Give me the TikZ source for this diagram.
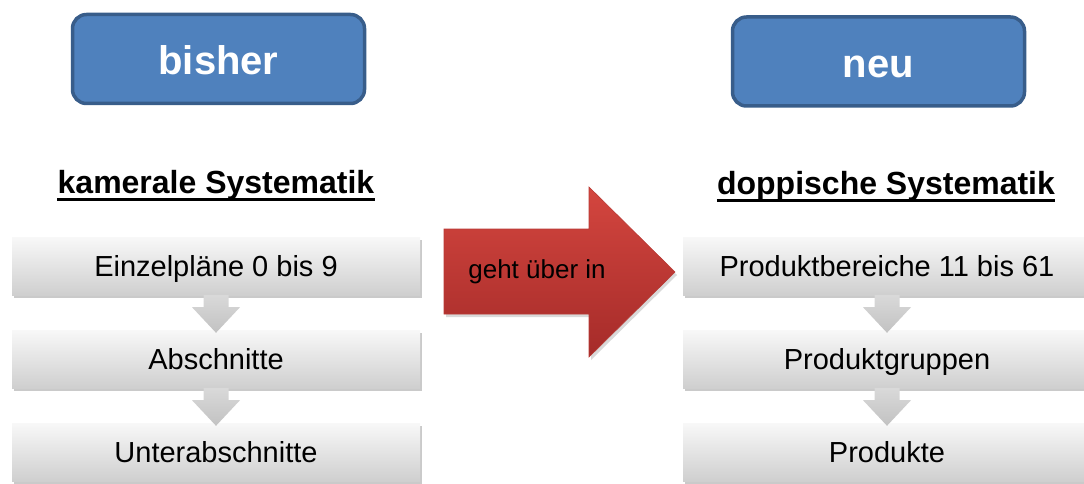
\documentclass[tikz,border=0pt]{standalone}
\usepackage{fontspec}
\setmainfont{Liberation Sans}
\usetikzlibrary{shadows,calc}
\definecolor{bluefill}{HTML}{4F81BD}
\definecolor{blueline}{HTML}{385D8A}
\definecolor{redtop}{HTML}{D4463F}
\definecolor{redbot}{HTML}{A52B29}
\definecolor{redline}{HTML}{B83A35}
\definecolor{graytop}{HTML}{F8F8F8}
\definecolor{graybot}{HTML}{CFCFCF}
\definecolor{arrtop}{HTML}{D9D9D9}
\definecolor{arrbot}{HTML}{C2C2C2}
\tikzset{
  bluebox/.style={draw=blueline, line width=3.5pt, fill=bluefill, rounded corners=14pt,
    minimum width=292pt, minimum height=89pt, text=white,
    font=\fontsize{40}{40}\selectfont\bfseries, text height=32pt, text depth=0pt},
  headline/.style={inner sep=0pt, anchor=base, font=\fontsize{32}{32}\selectfont\bfseries},
  ulinestyle/.style={line width=3pt},
  graybox/.style={top color=graytop, bottom color=graybot, draw=none,
    minimum width=408pt, minimum height=58pt,
    drop shadow={shadow xshift=1.5pt, shadow yshift=-3pt, opacity=0.35, fill=black!60},
    font=\fontsize{29}{29}\selectfont, text height=21pt, text depth=0pt},
  downarrow/.style={top color=arrtop, bottom color=arrbot, draw=none},
  bigarrow/.style={top color=redtop, bottom color=redbot, draw=redline, line width=0.6pt,
    drop shadow={shadow xshift=2pt, shadow yshift=-3pt, opacity=0.3}},
  arrowtext/.style={font=\fontsize{26}{26}\selectfont, inner sep=0pt}
}
\begin{document}
\begin{tikzpicture}[x=1pt,y=-1pt]
\useasboundingbox (0,0) rectangle (1084,484);
% blue boxes
\node[bluebox] (bisher) at (218.5,59) {bisher};
\node[bluebox] (neu) at (878.5,61.5) {neu};
% headings
\node[headline] (hl) at (216,193) {kamerale Systematik};
\node[headline] (hr) at (886,194) {doppische Systematik};
\draw[ulinestyle] ($(hl.base west)+(0,6.5)$) -- ($(hl.base east)+(0,6.5)$);
\draw[ulinestyle] ($(hr.base west)+(0,6.5)$) -- ($(hr.base east)+(0,6.5)$);
% big red arrow
\path[bigarrow] (444,229) -- (589,229) -- (589,187) -- (675,272) -- (589,357) -- (589,314) -- (444,314) -- cycle;
\node[arrowtext] (geht) at (537,272) {geht über in};
% left column
\node[graybox] (l1) at (216,266) {Einzelpläne 0 bis 9};
\node[graybox] (l2) at (216,359) {Abschnitte};
\node[graybox] (l3) at (216,452) {Unterabschnitte};
% right column
\node[graybox] (r1) at (887,266) {Produktbereiche 11 bis 61};
\node[graybox] (r2) at (887,359) {Produktgruppen};
\node[graybox] (r3) at (887,452) {Produkte};
% small down arrows
\foreach \a/\b in {l1/l2,l2/l3,r1/r2,r2/r3}{
  \path[downarrow] ($(\a.south)+(-12.5,0)$) -- ($(\a.south)+(12.5,0)$) -- ($(\a.south)+(12.5,12)$)
    -- ($(\a.south)+(24,12)$) -- ($(\b.north)+(0,3)$) -- ($(\a.south)+(-24,12)$)
    -- ($(\a.south)+(-12.5,12)$) -- cycle;
}
\end{tikzpicture}
\end{document}
